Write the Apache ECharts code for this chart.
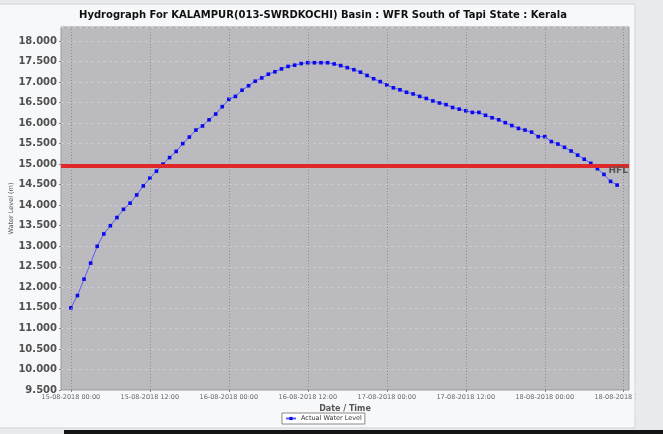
<!DOCTYPE html>
<html>
<head>
<meta charset="utf-8">
<script src="https://cdn.jsdelivr.net/npm/echarts@6/dist/echarts.min.js"></script>
<style>
html,body{margin:0;padding:0;background:#e8eaee;}
#chart{width:663px;height:434px;}
</style>
</head>
<body>
<div id="chart"></div>
<script>
// Hourly observations starting 15-08-2018 00:00
const startTime = new Date(2018, 7, 15, 0, 0, 0).getTime();
const waterLevel = [
  11.50, 11.80, 12.20, 12.59, 13.00, 13.30, 13.50, 13.70, 13.90, 14.05,
  14.25, 14.47, 14.66, 14.83, 15.00, 15.16, 15.31, 15.50, 15.66, 15.83,
  15.93, 16.08, 16.22, 16.40, 16.58, 16.65, 16.80, 16.91, 17.02, 17.10,
  17.19, 17.25, 17.32, 17.38, 17.41, 17.45, 17.47, 17.47, 17.47, 17.47,
  17.44, 17.40, 17.35, 17.30, 17.24, 17.16, 17.08, 17.01, 16.93, 16.86,
  16.81, 16.75, 16.71, 16.65, 16.60, 16.54, 16.49, 16.45, 16.38, 16.34,
  16.30, 16.26, 16.26, 16.19, 16.13, 16.08, 16.01, 15.94, 15.87, 15.83,
  15.78, 15.67, 15.67, 15.55, 15.49, 15.41, 15.32, 15.22, 15.12, 15.02,
  14.89, 14.75, 14.58, 14.49
];
const hflLevel = 14.97;
const titleText = 'Hydrograph For KALAMPUR(013-SWRDKOCHI) Basin : WFR South of Tapi State : Kerala';
const seriesName = 'Actual Water Level';
const xAxisName = 'Date / Time';
const yAxisName = 'Water Level (m)';
const yMin = 9.5, yMax = 18.34, yStep = 0.5;
const xMin = new Date(2018, 7, 14, 22, 30).getTime();
const xMax = new Date(2018, 7, 18, 12, 48).getTime();
// x tick marks (every 12 hours)
const xTicks = [
  new Date(2018, 7, 15, 0, 0).getTime(),
  new Date(2018, 7, 15, 12, 0).getTime(),
  new Date(2018, 7, 16, 0, 0).getTime(),
  new Date(2018, 7, 16, 12, 0).getTime(),
  new Date(2018, 7, 17, 0, 0).getTime(),
  new Date(2018, 7, 17, 12, 0).getTime(),
  new Date(2018, 7, 18, 0, 0).getTime(),
  new Date(2018, 7, 18, 12, 0).getTime()
];
const HOUR = 3600 * 1000;

const seriesData = waterLevel.map((v, i) => [startTime + i * HOUR, v]);

const FONT = 'DejaVu Sans';
const pad2 = n => (n < 10 ? '0' : '') + n;
const fmtDate = val => {
  const d = new Date(val);
  return pad2(d.getDate()) + '-' + pad2(d.getMonth() + 1) + '-' + d.getFullYear() + ' ' +
    pad2(d.getHours()) + ':' + pad2(d.getMinutes());
};
const chart = echarts.init(document.getElementById('chart'), null, {renderer: 'canvas'});
chart.setOption({
  animation: false,
  backgroundColor: 'transparent',
  textStyle: {fontFamily: FONT},
  graphic: [
    {type: 'rect', z: -10, silent: true, shape: {x: -1, y: 4, width: 636, height: 424},
     style: {fill: '#f7f8fa', stroke: '#cfd3d9', lineWidth: 1}},
    {type: 'rect', z: 100, silent: true, shape: {x: 635.5, y: 380, width: 30, height: 40},
     style: {fill: '#e8eaee'}},
    {type: 'rect', z: 100, silent: true, shape: {x: 64, y: 430, width: 600, height: 6},
     style: {fill: '#141414'}}
  ],
  title: {
    text: titleText,
    left: 318, top: 5, textAlign: 'center',
    textStyle: {fontFamily: FONT, fontSize: 10, fontWeight: 'bold', color: '#111'}
  },
  legend: {
    data: [seriesName],
    left: 282, top: 413,
    orient: 'horizontal',
    itemWidth: 10, itemHeight: 4, itemGap: 4,
    padding: [2, 3, 2, 3],
    borderColor: '#8a8a8a', borderWidth: 1, borderRadius: 0,
    backgroundColor: '#ffffff',
    textStyle: {fontFamily: FONT, fontSize: 6.5, color: '#333'}
  },
  grid: {left: 61, right: 34, top: 27, bottom: 44, show: true, outerBoundsMode: 'none',
         containLabel: false,
         backgroundColor: '#bbbbbf', borderColor: '#9a9a9e', borderWidth: 1},
  xAxis: {
    type: 'value',
    min: xMin, max: xMax,
    name: xAxisName, nameLocation: 'middle', nameGap: 15, nameMoveOverlap: false,
    nameTextStyle: {fontFamily: FONT, fontSize: 8, fontWeight: 'bold', color: '#555'},
    axisLine: {show: false},
    axisTick: {show: true, length: 2, customValues: xTicks, lineStyle: {color: '#888'}},
    minorTick: {show: false},
    axisLabel: {
      fontFamily: FONT, fontSize: 6.5, color: '#666', margin: 4,
      customValues: xTicks,
      formatter: fmtDate
    },
    splitLine: {show: false}
  },
  yAxis: {
    type: 'value',
    min: yMin, max: yMax, interval: yStep,
    name: yAxisName, nameLocation: 'middle', nameGap: 46, nameRotate: 90,
    nameMoveOverlap: false,
    nameTextStyle: {fontFamily: FONT, fontSize: 6.5, color: '#555'},
    axisLine: {show: false},
    axisTick: {show: true, length: 2, lineStyle: {color: '#888'}},
    axisLabel: {
      fontFamily: FONT, fontSize: 10, fontWeight: 'bold', color: '#505050', margin: 4,
      showMaxLabel: false,
      formatter: v => v.toFixed(3)
    },
    splitLine: {show: true, lineStyle: {color: '#cbcbcf', type: [3, 3], width: 1}}
  },
  series: [
    {
      name: 'gridX',
      type: 'line',
      data: [],
      z: 1,
      silent: true,
      markLine: {
        silent: true,
        symbol: ['none', 'none'],
        label: {show: false},
        lineStyle: {color: '#8c8c90', width: 1, type: [1, 2]},
        data: xTicks.map(t => ({xAxis: t}))
      }
    },
    {
      name: seriesName,
      type: 'line',
      z: 3,
      data: seriesData,
      symbol: 'rect', symbolSize: 3.6,
      itemStyle: {color: '#0a0af0'},
      lineStyle: {color: '#5a5af5', width: 1},
      markLine: {
        silent: true,
        symbol: ['none', 'none'],
        lineStyle: {color: '#e0282a', width: 4, type: 'solid'},
        label: {show: true, position: 'insideEndBottom', formatter: 'HFL',
                fontFamily: FONT, fontSize: 9, fontWeight: 'bold', color: '#555', distance: [1, 1]},
        data: [{yAxis: hflLevel}]
      }
    }
  ]
});
</script>
</body>
</html>
